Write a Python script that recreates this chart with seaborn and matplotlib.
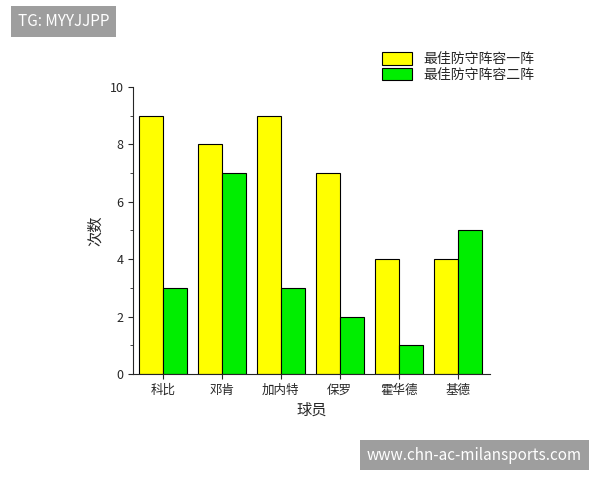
import matplotlib
matplotlib.use("Agg")
import matplotlib.pyplot as plt
from matplotlib.ticker import MultipleLocator
import seaborn as sns
import pandas as pd

players = ["科比", "邓肯", "加内特", "保罗", "霍华德", "基德"]
first_team = [9, 8, 9, 7, 4, 4]
second_team = [3, 7, 3, 2, 1, 5]
series_names = ["最佳防守阵容一阵", "最佳防守阵容二阵"]

df = pd.DataFrame({
    "球员": players * 2,
    "次数": first_team + second_team,
    "阵容": [series_names[0]] * len(players) + [series_names[1]] * len(players),
})

sns.set_style("ticks")
plt.rcParams["font.family"] = ["Noto Sans CJK SC", "DejaVu Sans"]

fig = plt.figure(figsize=(6, 4.8), dpi=100)
ax = fig.add_axes([0.222, 0.221, 0.595, 0.598])
sns.barplot(ax=ax, data=df, x="球员", y="次数", hue="阵容",
            palette=["#FFFF00", "#00EE00"], edgecolor="black", linewidth=0.8,
            width=0.81, saturation=1)
ax.set_ylim(0, 10)
ax.set_xlim(-0.5, 5.55)
ax.yaxis.set_major_locator(MultipleLocator(2))
ax.yaxis.set_minor_locator(MultipleLocator(1))
ax.tick_params(labelsize=9)
ax.set_xlabel("球员", fontsize=11)
ax.set_ylabel("次数", fontsize=11)
sns.despine(ax=ax)
ax.legend(title=None, loc="upper left", bbox_to_anchor=(0.68, 1.14),
          frameon=False, fontsize=10, handlelength=2.2, handleheight=1.0,
          labelspacing=0.1, borderaxespad=0)

fig.text(0.03, 0.955, "TG: MYYJJPP", color="white", fontsize=11, va="center",
         bbox=dict(facecolor="#9e9e9e", edgecolor="none", pad=5))
fig.text(0.97, 0.052, "www.chn-ac-milansports.com", color="white", fontsize=11,
         ha="right", va="center",
         bbox=dict(facecolor="#9e9e9e", edgecolor="none", pad=5))

fig.savefig("out.png", dpi=100)
